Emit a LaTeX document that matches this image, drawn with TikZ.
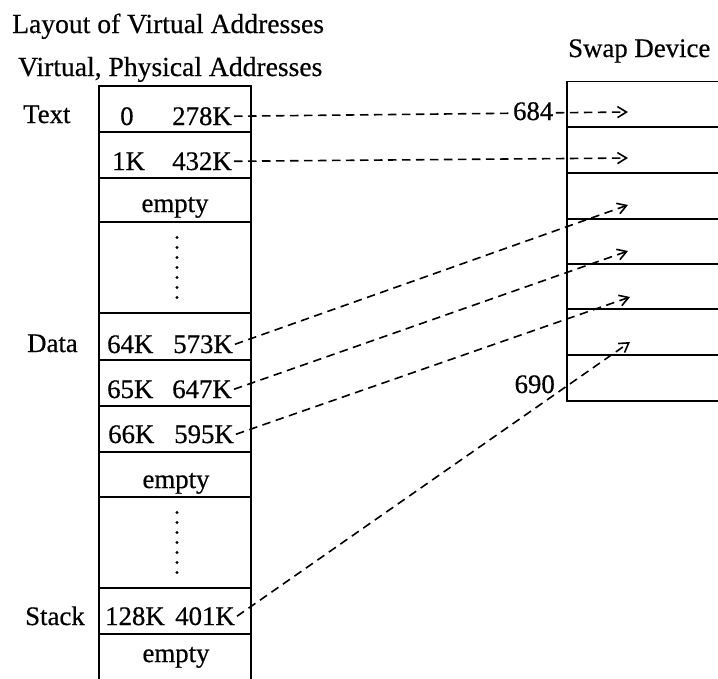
\documentclass[tikz,border=0pt]{standalone}
\usepackage{fontspec}
\setmainfont{Liberation Serif}[FakeBold=0.5]
\usetikzlibrary{arrows.meta,calc}

\tikzset{
  cell/.style={draw, line width=1.6pt, rectangle, inner sep=0pt, minimum width=152pt},
  swapcell/.style={draw, line width=1.6pt, rectangle, inner sep=0pt, minimum width=200pt, minimum height=46pt},
  txt/.style={inner sep=0pt, font=\fontsize{26.8}{30}\selectfont},
  title/.style={inner sep=0pt, font=\fontsize{27.6}{30}\selectfont},
  link/.style={dash pattern=on 8.5pt off 5.5pt, line width=1.6pt,
    -{Straight Barb[length=9pt,width=11pt,line width=1.6pt]}},
  dot/.style={circle, fill, inner sep=0pt, minimum size=3.2pt}
}

\begin{document}
\begin{tikzpicture}[x=1pt,y=-1pt]
\useasboundingbox (0,0) rectangle (718,678);
\clip (0,0) rectangle (718,678);

% titles
\node[title, anchor=base west] (title) at (12,33) {Layout of Virtual Addresses};
\node[title, anchor=base west] (subtitle) at (18,76) {Virtual, Physical Addresses};
\node[txt, anchor=base west] (swaptitle) at (568,57) {Swap Device};

% region table of virtual addresses
\node[cell, minimum height=46pt] (L1)  at (175,109)   {};
\node[cell, minimum height=46pt] (L2)  at (175,155)   {};
\node[cell, minimum height=44pt] (L3)  at (175,200)   {};
\node[cell, minimum height=91pt] (L4)  at (175,267.5) {};
\node[cell, minimum height=47pt] (L5)  at (175,336.5) {};
\node[cell, minimum height=46pt] (L6)  at (175,383)   {};
\node[cell, minimum height=46pt] (L7)  at (175,429)   {};
\node[cell, minimum height=45pt] (L8)  at (175,474.5) {};
\node[cell, minimum height=91pt] (L9)  at (175,542.5) {};
\node[cell, minimum height=46pt] (L10) at (175,611)   {};
\node[cell, minimum height=66pt] (L11) at (175,667)   {};

% region labels
\node[txt, anchor=base west] (ltext)  at (23,123) {Text};
\node[txt, anchor=base west] (ldata)  at (27,352) {Data};
\node[txt, anchor=base west] (lstack) at (25,625) {Stack};

% virtual addresses
\node[txt, anchor=base west] (v1) at (120,125) {0};
\node[txt, anchor=base west] (v2) at (112,170) {1K};
\node[txt, anchor=base west] (v5) at (107,353) {64K};
\node[txt, anchor=base west] (v6) at (107,398) {65K};
\node[txt, anchor=base west] (v7) at (108,443) {66K};
\node[txt, anchor=base west] (v10) at (105,625) {128K};

% physical addresses
\node[txt, anchor=base east] (p1) at (232,125) {278K};
\node[txt, anchor=base east] (p2) at (232,170) {432K};
\node[txt, anchor=base east] (p5) at (233,353) {573K};
\node[txt, anchor=base east] (p6) at (232,398) {647K};
\node[txt, anchor=base east] (p7) at (234,443) {595K};
\node[txt, anchor=base east] (p10) at (235,625) {401K};

% empty rows
\node[txt, anchor=base] (e3) at (175,212) {empty};
\node[txt, anchor=base] (e8) at (176,488) {empty};
\node[txt, anchor=base] (e11) at (176,662) {empty};

% vertical ellipses
\foreach \i in {0,...,6} {
  \node[dot] at ($(L4.center)+(2,-30+10*\i)$) {};
  \node[dot] at ($(L9.center)+(2,-30+10*\i)$) {};
}

% swap device blocks
\node[swapcell] (S1) at (667,104.5) {};
\node[swapcell] (S2) at (667,150)   {};
\node[swapcell] (S3) at (667,196)   {};
\node[swapcell] (S4) at (667,241.5) {};
\node[swapcell] (S5) at (667,286.5) {};
\node[swapcell] (S6) at (667,332)   {};
\node[swapcell] (S7) at (667,378)   {};

% arrow targets inside the swap blocks
\coordinate (t1) at (628,112);
\coordinate (t2) at (628,158);
\coordinate (t3) at (628,205);
\coordinate (t4) at (628,251);
\coordinate (t5) at (630,297);
\coordinate (t6) at (630,342);

% page-to-swap links
\draw[link] ($(p1.east)+(2,0)$) -- (t1);
\draw[link] ($(p2.east)+(2,0)$) -- (t2);
\draw[link] ($(p5.east)+(2,0)$) -- (t3);
\draw[link] ($(p6.east)+(2,0)$) -- (t4);
\draw[link] ($(p7.east)+(2,0)$) -- (t5);
\draw[link] ($(p10.east)+(2,0)$) -- (t6);

% swap block numbers
\node[txt, anchor=base east, fill=white, inner sep=1.5pt] (n684) at (555,120) {684};
\node[txt, anchor=base east] (n690) at (555,393) {690};
\end{tikzpicture}
\end{document}
